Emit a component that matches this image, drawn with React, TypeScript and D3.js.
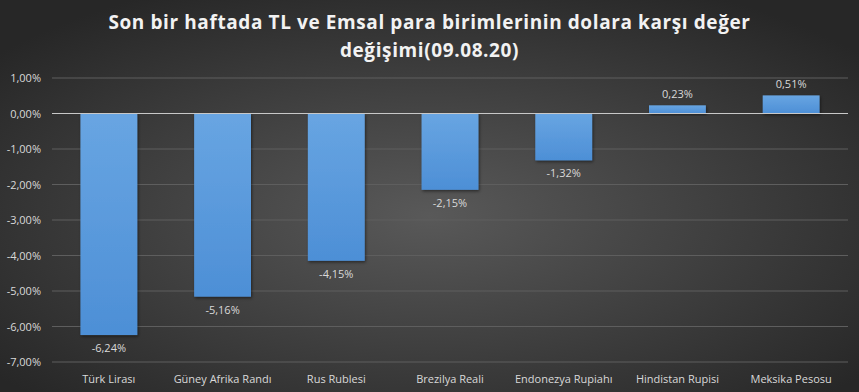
import React from "react";
import * as d3 from "d3";

const categories = ["Türk Lirası", "Güney Afrika Randı", "Rus Rublesi", "Brezilya Reali", "Endonezya Rupiahı", "Hindistan Rupisi", "Meksika Pesosu"];
const values = [-6.24, -5.16, -4.15, -2.15, -1.32, 0.23, 0.51];
const yTicks = [1, 0, -1, -2, -3, -4, -5, -6, -7];
const titleLines = ["Son bir haftada TL ve Emsal para birimlerinin dolara karşı değer", "değişimi(09.08.20)"];

const W = 859, H = 392;
const fmt = (v: number) => v.toFixed(2).replace(".", ",") + "%";

export default function App() {
  const x = d3.scaleBand<string>().domain(categories).range([52, 848]).paddingInner(0.5).paddingOuter(0.25);
  const y = d3.scaleLinear().domain([-7, 1]).range([362, 78]);
  const font = "'Open Sans', sans-serif";
  return (
    <svg width={W} height={H} style={{ position: "absolute", left: 0, top: 0 }}>
      <defs>
        <radialGradient id="bg" cx="50%" cy="55%" r="65%" fx="50%" fy="55%">
          <stop offset="0%" stopColor="#595959" />
          <stop offset="100%" stopColor="#272727" />
        </radialGradient>
        <linearGradient id="bar" x1="0" x2="0" y1="0" y2="1">
          <stop offset="0%" stopColor="#68a5e2" />
          <stop offset="100%" stopColor="#4d8fd6" />
        </linearGradient>
        <filter id="sh" x="-20%" y="-20%" width="140%" height="140%">
          <feDropShadow dx="1" dy="1.5" stdDeviation="1.5" floodColor="#000" floodOpacity="0.5" />
        </filter>
      </defs>
      <rect width={W} height={H} fill="url(#bg)" />
      {titleLines.map((t, i) => (
        <text key={i} x={W / 2} y={29 + i * 28} textAnchor="middle" fill="#f2f2f2" fontFamily={font} fontWeight={700} fontSize={19} letterSpacing={0.6}>
          {t}
        </text>
      ))}
      {yTicks.map((t) => (
        <g key={t}>
          {t !== 0 && <line x1={52} x2={848} y1={y(t)} y2={y(t)} stroke="#5e5e5e" strokeWidth={1} />}
          <text x={41} y={y(t) + 4} textAnchor="end" fill="#d9d9d9" fontFamily={font} fontSize={11}>
            {fmt(t)}
          </text>
        </g>
      ))}
      {categories.map((c, i) => {
        const v = values[i];
        const x0 = x(c)!;
        const top = y(Math.max(0, v));
        const bot = y(Math.min(0, v));
        const cx = x0 + x.bandwidth() / 2;
        return (
          <g key={c}>
            <rect x={x0} y={top} width={x.bandwidth()} height={bot - top} fill="url(#bar)" filter="url(#sh)" />
            <text x={cx} y={v < 0 ? bot + 17 : top - 7} textAnchor="middle" fill="#d9d9d9" fontFamily={font} fontSize={11}>
              {fmt(v)}
            </text>
            <text x={cx} y={383} textAnchor="middle" fill="#d9d9d9" fontFamily={font} fontSize={11}>
              {c}
            </text>
          </g>
        );
      })}
      <line x1={52} x2={848} y1={y(0)} y2={y(0)} stroke="#c8c8c8" strokeWidth={1} />
    </svg>
  );
}
